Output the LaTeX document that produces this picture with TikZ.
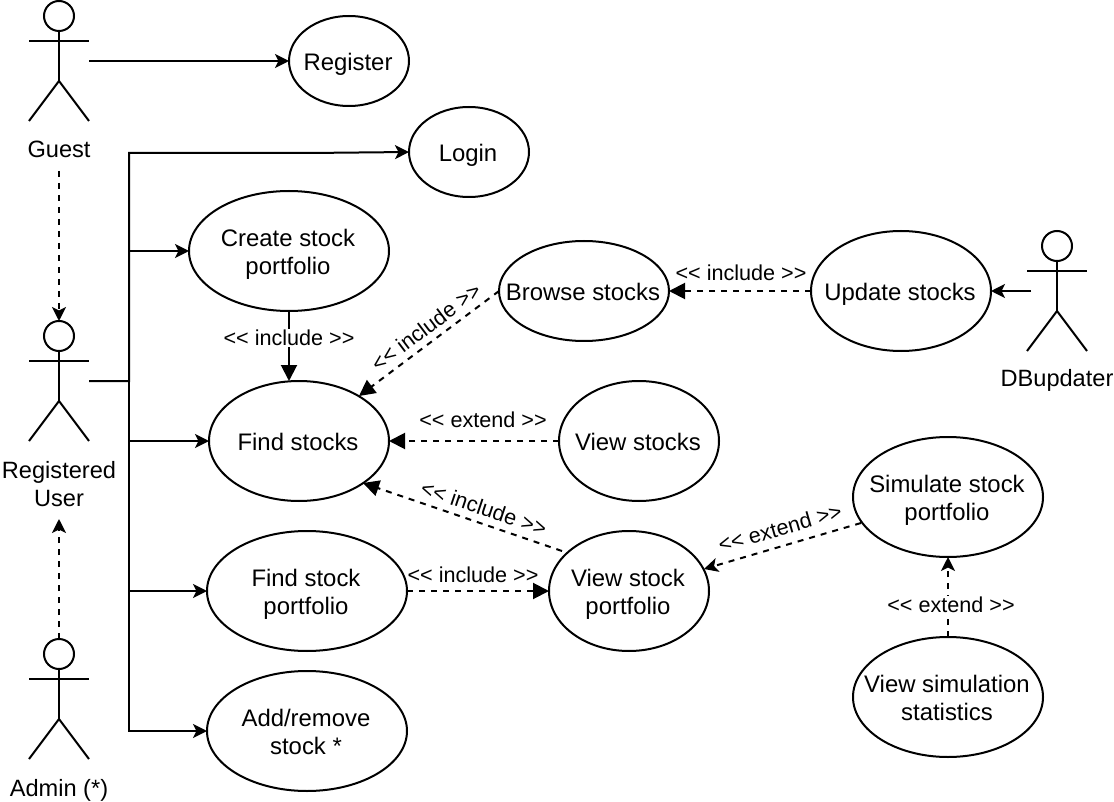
\documentclass[tikz,border=0pt]{standalone}
\usepackage{fontspec}
\setmainfont{Liberation Sans}
\usetikzlibrary{shapes.geometric,arrows.meta}
\newcommand{\uctext}[1]{\raisebox{-10.5pt}[0pt][0pt]{\makebox[0pt]{\hspace*{-2pt}\begin{tabular}{@{}c@{}}#1\end{tabular}}}}
\newcommand{\inclabel}{<{}< include >{}>}
\newcommand{\extlabel}{<{}< extend >{}>}
\tikzset{
  usecase/.style={ellipse,draw,inner sep=0pt,outer sep=0pt,font=\fontsize{23.9}{28}\selectfont},
  actorbox/.style={rectangle,inner sep=0pt,outer sep=0pt,minimum width=60pt,minimum height=120pt},
  actorlabel/.style={rectangle,inner sep=0pt,outer sep=0pt,align=center,font=\fontsize{23.6}{28}\selectfont},
  edgelabel/.style={inner sep=1pt,font=\fontsize{21.6}{26}\selectfont},
  open/.style={-{Stealth[length=14pt,width=14pt,inset=3.5pt]}},
  block/.style={-{Triangle[length=16pt,width=16pt]}},
  dash6/.style={dash pattern=on 6pt off 6pt},
  stickman/.pic={
    \draw (0,-45) circle[radius=15];
    \draw (0,-30) -- (0,20);
    \draw (-30,-20) -- (30,-20);
    \draw (-30,60) -- (0,20) -- (30,60);
  }
}
\begin{document}
\begin{tikzpicture}[x=1pt,y=-1pt,line width=2pt,line join=miter]
\useasboundingbox[fill=white] (0,0) rectangle (1114,802);
% actors
\node[actorbox] (guest) at (59,61) {};
\pic at (guest) {stickman};
\node[actorbox] (reg) at (59,381) {};
\pic at (reg) {stickman};
\node[actorbox] (admin) at (59,699) {};
\pic at (admin) {stickman};
\node[actorbox] (dbu) at (1057,291) {};
\pic at (dbu) {stickman};
\node[actorlabel,minimum height=44pt] (guestlbl) at (59,149) {Guest};
\node[actorlabel,minimum height=70pt] (reglbl) at (59,484) {Registered\\User};
\node[actorlabel] (adminlbl) at (59,790) {Admin (*)};
\node[actorlabel] (dbulbl) at (1057,380) {DBupdater};
% use cases
\node[usecase,minimum width=120pt,minimum height=90pt] (register) at (349,61) {\uctext{Register}};
\node[usecase,minimum width=120pt,minimum height=90pt] (login) at (469,152) {\uctext{Login}};
\node[usecase,minimum width=200pt,minimum height=120pt] (create) at (289,251) {\uctext{Create stock\\portfolio}};
\node[usecase,minimum width=180pt,minimum height=120pt] (find) at (299,441) {\uctext{Find stocks}};
\node[usecase,minimum width=170pt,minimum height=100pt] (browse) at (584,291) {\uctext{Browse stocks}};
\node[usecase,minimum width=180pt,minimum height=120pt] (update) at (901,291) {\uctext{Update stocks}};
\node[usecase,minimum width=160pt,minimum height=120pt] (viewstocks) at (639,441) {\uctext{View stocks}};
\node[usecase,minimum width=190pt,minimum height=120pt] (simulate) at (948,497) {\uctext{Simulate stock\\portfolio\ }};
\node[usecase,minimum width=160pt,minimum height=120pt] (viewport) at (629,591) {\uctext{View stock\\portfolio\ }};
\node[usecase,minimum width=200pt,minimum height=120pt] (findport) at (307,591) {\uctext{Find stock\\portfolio}};
\node[usecase,minimum width=200pt,minimum height=120pt] (addrem) at (307,731) {\uctext{Add/remove\\stock *}};
\node[usecase,minimum width=190pt,minimum height=120pt] (viewsim) at (948,697) {\uctext{View simulation\\statistics}};
% bus points
\coordinate (bus) at (129,381);
\coordinate (bustop) at (129,153);
\coordinate (loginbend) at (309,153);
\coordinate (dbustart) at (1031,291);
\coordinate (findtop) at (289,381);
% solid connectors
\draw[open] (guest.east) -- (register.west);
\draw[open] (reg.east) -- (bus) -- (bustop) -- (loginbend) -- (login.west);
\draw[open] (reg.east) -- (bus) |- (create.west);
\draw[open] (reg.east) -- (bus) |- (find.west);
\draw[open] (reg.east) -- (bus) |- (findport.west);
\draw[open] (reg.east) -- (bus) |- (addrem.west);
\draw[open] (dbustart) -- (update.east);
\draw[block] (create.south) -- node[edgelabel,fill=white,pos=0.386] {\inclabel} (findtop);
% dashed connectors
\draw[open,dash6] (guestlbl.south) -- (reg.north);
\draw[open,dash6] (admin.north) -- (reglbl.south);
\coordinate (browsestart) at (499,291);
\coordinate (findne) at (359,396);
\draw[block,dash6] (browsestart) -- (findne);
\node[edgelabel,rotate=37] (lb1) at (426,327) {\inclabel};
\draw[block,dash6] (update.west) -- (browse.east);
\node[edgelabel] (lb2) at (741,273) {\inclabel};
\draw[block,dash6] (viewstocks.west) -- (find.east);
\node[edgelabel] (lb3) at (483,420) {\extlabel};
\coordinate (vpnw) at (562,551);
\coordinate (findse) at (363,483);
\draw[block,dash6] (vpnw) -- (findse);
\node[edgelabel,rotate=-18.5] (lb4) at (484,508) {\inclabel};
\draw[block,dash6] (findport.east) -- (viewport.west);
\node[edgelabel] (lb5) at (473,575) {\inclabel};
\coordinate (simsw) at (861,523);
\coordinate (vpne) at (704,569);
\draw[open,dash6] (simsw) -- (vpne);
\node[edgelabel,rotate=16] (lb6) at (780,528) {\extlabel};
\draw[open,dash6] (viewsim.north) -- (simulate.south);
\node[edgelabel,fill=white] (lb7) at (951,605) {\extlabel};
\end{tikzpicture}
\end{document}
